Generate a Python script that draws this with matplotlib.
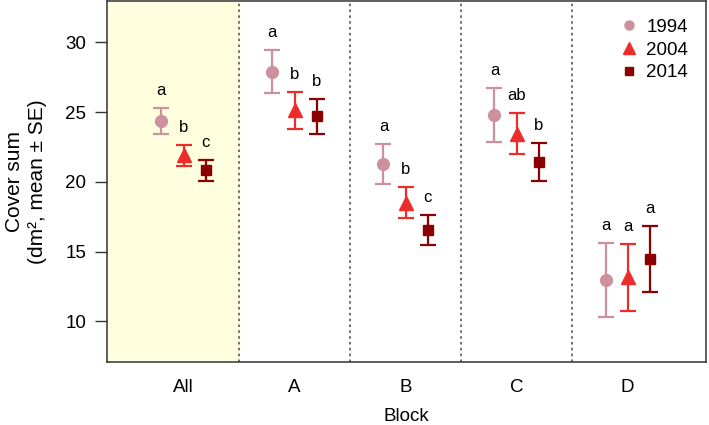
import matplotlib
matplotlib.use("Agg")
import matplotlib.pyplot as plt
import numpy as np

plt.rcParams['font.family'] = ['Liberation Sans', 'DejaVu Sans']

blocks = ['All', 'A', 'B', 'C', 'D']
years = ['1994', '2004', '2014']

mean_1994 = [24.35, 27.90, 21.27, 24.79, 12.97]
se_1994 = [0.95, 1.55, 1.41, 1.96, 2.66]
mean_2004 = [21.90, 25.13, 18.50, 23.46, 13.14]
se_2004 = [0.77, 1.32, 1.10, 1.49, 2.42]
mean_2014 = [20.82, 24.70, 16.55, 21.41, 14.47]
se_2014 = [0.74, 1.26, 1.05, 1.35, 2.39]

letters_1994 = ['a', 'a', 'a', 'a', 'a']
letters_2004 = ['b', 'b', 'b', 'ab', 'a']
letters_2014 = ['c', 'b', 'c', 'b', 'a']

colors = ['#CD919E', '#EE2C2C', '#8B0000']
markers = ['o', '^', 's']
msizes = [8.5, 10, 7.5]
legend_sizes = [6.5, 8, 5.5]

fig = plt.figure(figsize=(7.09, 4.25), dpi=100)
ax = fig.add_axes([107 / 709, 1 - 362 / 425, (706 - 107) / 709, 361 / 425])

x = np.arange(1, len(blocks) + 1)
offsets = [-0.2, 0.0, 0.2]
series = [(mean_1994, se_1994, letters_1994),
          (mean_2004, se_2004, letters_2004),
          (mean_2014, se_2014, letters_2014)]

ax.axvspan(0.3, 1.5, color='#FFFFE0', zorder=0)
for d in x[:-1] + 0.5:
    ax.axvline(d, color='#555555', linestyle=(0, (1.5, 2)), lw=1.2, zorder=1)

handles = []
for i, (m, s, lab) in enumerate(series):
    xs = x + offsets[i]
    ax.errorbar(xs, m, yerr=s, fmt='none', ecolor=colors[i], elinewidth=1.6,
                capsize=5.5, capthick=1.6, zorder=3)
    ax.plot(xs, m, linestyle='none', marker=markers[i], color=colors[i],
            markersize=msizes[i], zorder=4)
    for xx, mm, ss, t in zip(xs, m, s, lab):
        ax.text(xx, mm + ss + 1.25, t, ha='center', va='center', fontsize=12,
                color='black')
    h, = ax.plot([], [], linestyle='none', marker=markers[i], color=colors[i],
                 markersize=legend_sizes[i])
    handles.append(h)

ax.legend(handles, years, loc='upper right', frameon=False, fontsize=13.5,
          handletextpad=0.3, labelspacing=0.3, borderaxespad=0.55,
          handlelength=1.2)

ax.set_xlim(0.31, 5.705)
ax.set_ylim(7.08, 32.96)
ax.set_yticks([10, 15, 20, 25, 30])
ax.set_xticks(x)
ax.set_xticklabels(blocks)
ax.tick_params(axis='x', length=0, pad=12, labelsize=13.5)
ax.tick_params(axis='y', length=9, width=1, pad=6, labelsize=13.5,
               color='#333333')
for sp in ax.spines.values():
    sp.set_color('#333333')
    sp.set_linewidth(1.1)

ax.set_xlabel('Block', fontsize=13.5, labelpad=9)
ax.set_ylabel('Cover sum\n(dm\u00b2, mean \u00b1 SE)', fontsize=15,
              linespacing=1.25)
ax.yaxis.set_label_coords(-0.1, 0.5)

fig.savefig('out.png', dpi=100)
